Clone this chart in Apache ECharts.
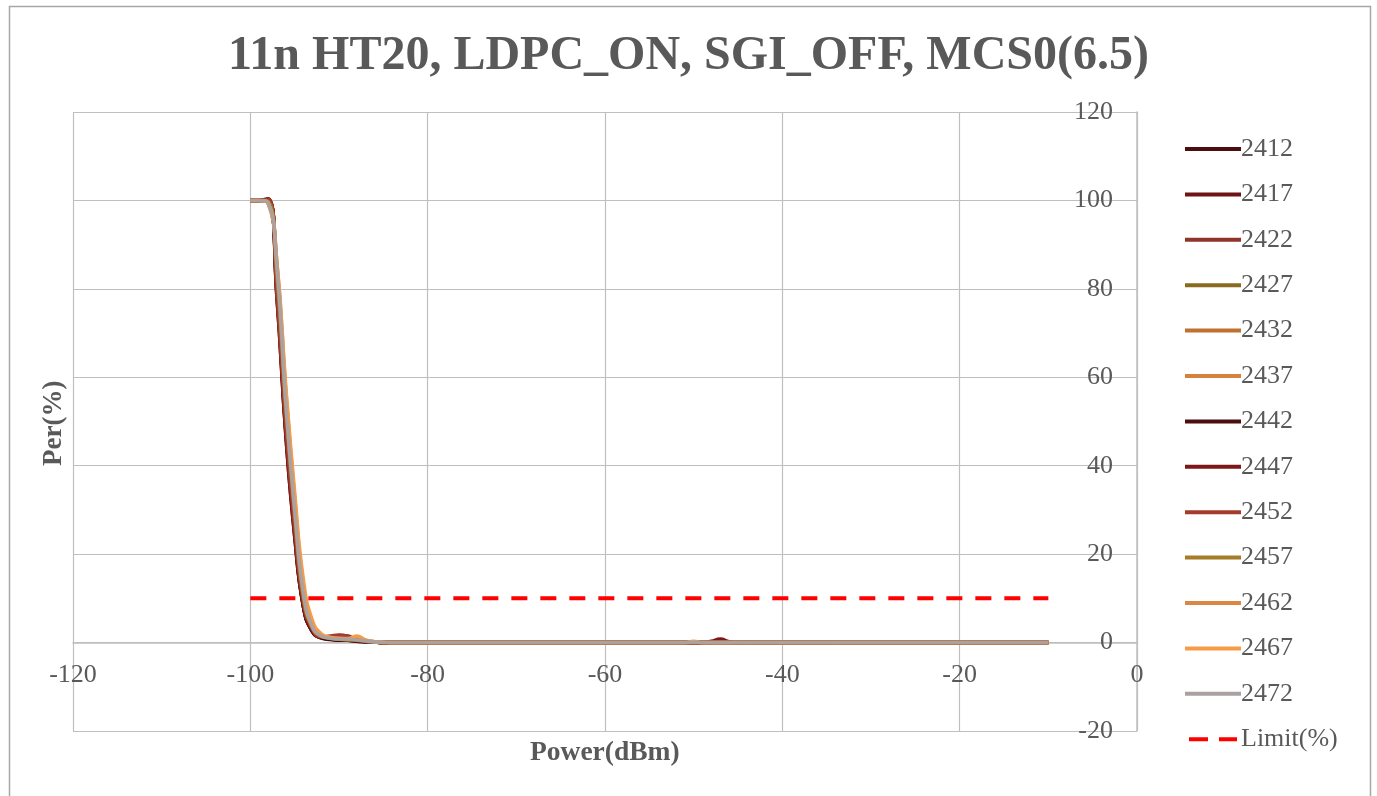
<!DOCTYPE html>
<html>
<head>
<meta charset="utf-8">
<script src="https://cdn.jsdelivr.net/npm/echarts@6/dist/echarts.min.js"></script>
<style>
html,body{margin:0;padding:0;background:#fff;}
#chart{width:1377px;height:796px;}
</style>
</head>
<body>
<div id="chart"></div>
<script>
const chartTitle = '11n HT20, LDPC_ON, SGI_OFF, MCS0(6.5)';
const xAxisName = 'Power(dBm)';
const yAxisName = 'Per(%)';
const xTicks = [-120, -100, -80, -60, -40, -20, 0];
const yTicks = [-20, 0, 20, 40, 60, 80, 100, 120];

const powers = [
-100,-99,-98,-97,-96,-95,-94,-93,-92,-91,
-90,-89,-88,-87,-86,-85,-84,-83,-82,-81,
-80,-79,-78,-77,-76,-75,-74,-73,-72,-71,
-70,-69,-68,-67,-66,-65,-64,-63,-62,-61,
-60,-59,-58,-57,-56,-55,-54,-53,-52,-51,
-50,-49,-48,-47,-46,-45,-44,-43,-42,-41,
-40,-39,-38,-37,-36,-35,-34,-33,-32,-31,
-30,-29,-28,-27,-26,-25,-24,-23,-22,-21,
-20,-19,-18,-17,-16,-15,-14,-13,-12,-11,
-10];

const seriesNames = ['2412','2417','2422','2427','2432','2437','2442','2447','2452','2457','2462','2467','2472'];

const per2412 = [
100,100,100,80,48,25,8,2.5,1,0.7,
0.5,0.5,0.3,0.2,0.1,0,0,0,0,0,
0,0,0,0,0,0,0,0,0,0,
0,0,0,0,0,0,0,0,0,0,
0,0,0,0,0,0,0,0,0,0,
0,0,0,0,0,0,0,0,0,0,
0,0,0,0,0,0,0,0,0,0,
0,0,0,0,0,0,0,0,0,0,
0,0,0,0,0,0,0,0,0,0,
0];
const per2417 = [
100,100,100.3,78,47,24,8,2.5,1.2,0.8,
1.2,1,0.4,0.2,0.1,0,0,0,0,0,
0,0,0,0,0,0,0,0,0,0,
0,0,0,0,0,0,0,0,0,0,
0,0,0,0,0,0,0,0,0,0,
0,0,0,0,0,0,0,0,0,0,
0,0,0,0,0,0,0.1,0,0,0,
0,0,0,0,0,0,0,0,0,0,
0,0,0,0,0,0,0,0,0,0,
0];
const per2422 = [
100,100,100,80,50,27,9,3,1.3,1,
0.8,0.6,0.4,0.2,0.1,0,0,0,0,0,
0,0,0,0,0,0,0,0,0,0,
0,0,0,0,0,0,0,0,0,0,
0,0,0,0,0,0,0,0,0,0,
0,0,0,0,0,0,0,0,0,0,
0,0,0,0,0,0,0,0,0,0,
0,0,0,0,0,0,0,0,0,0,
0,0,0,0,0,0,0,0,0,0,
0];
const per2427 = [
100,100,99.8,82,52,28,10,3,1.3,1,
0.8,0.6,0.5,0.3,0.1,0,0,0,0,0,
0,0,0,0,0,0,0,0,0,0,
0,0,0,0,0,0,0,0,0,0,
0,0,0,0,0,0,0,0,0,0,
0,0,0,0,0,0,0.1,0,0,0,
0,0,0,0,0,0,0,0,0,0,
0,0,0,0,0,0,0,0,0,0,
0,0,0,0,0,0,0,0,0,0,
0];
const per2432 = [
100,100,99.5,84,55,31,12,4,1.6,1,
0.8,0.7,0.8,0.3,0.1,0,0,0,0,0,
0,0,0,0,0,0,0,0,0,0,
0,0,0,0,0,0,0,0,0,0,
0,0,0,0,0,0,0,0,0,0,
0,0,0,0,0,0,0,0,0,0,
0,0,0,0,0,0,0,0,0,0,
0,0,0,0,0,0,0,0,0,0,
0,0,0,0,0,0,0,0,0,0,
0];
const per2437 = [
100,100,99.5,85,56,32,12,4,1.5,1,
0.8,0.7,1,0.4,0.2,0,0,0,0,0,
0,0,0,0,0,0,0,0,0,0,
0,0,0,0,0,0,0,0,0,0,
0,0,0,0,0,0,0,0,0,0,
0,0,0,0,0,0,0,0,0,0,
0,0,0,0,0,0,0,0,0,0,
0,0,0,0,0,0,0,0,0,0,
0,0,0,0,0,0,0,0,0,0,
0];
const per2442 = [
100,100,100,79,48,25,8,2.5,1.1,0.8,
0.6,0.5,0.3,0.2,0.1,0,0,0,0,0,
0,0,0,0,0,0,0,0,0,0,
0,0,0,0,0,0,0,0,0,0,
0,0,0,0,0,0,0,0,0,0,
0,0,0,0,0,0,0,0,0,0,
0,0,0,0,0,0,0,0,0,0,
0,0,0,0,0,0,0,0,0,0,
0,0,0,0,0,0,0,0,0,0,
0];
const per2447 = [
100,100,100.4,78,47,24,8,2.7,1.2,1.3,
1.6,1.5,0.5,0.3,0.1,0,0,0,0,0,
0,0,0,0,0,0,0,0,0,0,
0,0,0,0,0,0,0,0,0,0,
0,0,0,0,0,0,0,0,0,0,
0,0,0.3,0.8,0.2,0,0,0,0,0,
0,0,0,0,0,0,0,0,0,0,
0,0,0,0,0,0,0,0,0,0,
0,0,0,0,0,0,0,0,0,0,
0];
const per2452 = [
100,100,100.2,79,49,26,9,3,1.3,1.5,
1.7,1.4,0.5,0.3,0.1,0,0,0,0,0,
0,0,0,0,0,0,0,0,0,0,
0,0,0,0,0,0,0,0,0,0,
0,0,0,0,0,0,0,0,0,0,
0,0,0,0,0,0,0,0,0,0,
0,0,0,0,0,0,0,0,0,0,
0,0,0,0,0,0,0,0,0,0,
0,0,0,0,0,0,0,0,0,0,
0];
const per2457 = [
100,100,99.8,83,53,29,10,3.3,1.4,1,
0.8,0.6,0.6,0.3,0.1,0,0,0,0,0,
0,0,0,0,0,0,0,0,0,0,
0,0,0,0,0,0,0,0,0,0,
0,0,0,0,0,0,0,0,0,0,
0,0,0,0,0,0,0,0,0,0,
0,0,0,0,0,0,0,0,0,0,
0,0,0,0,0,0,0,0,0,0,
0,0,0,0,0,0,0,0,0,0,
0];
const per2462 = [
100,100,99.5,86,57,33,13,4.5,1.6,1.1,
0.9,0.8,1.3,0.5,0.2,0,0,0,0,0,
0,0,0,0,0,0,0,0,0,0,
0,0,0,0,0,0,0,0,0,0,
0,0,0,0,0,0,0,0,0,0,
0,0,0,0,0,0,0,0,0,0,
0,0,0,0,0,0,0,0,0,0,
0,0,0,0,0,0,0,0,0,0,
0,0,0,0,0,0,0,0,0,0,
0];
const per2467 = [
100,100,99.3,86,58,34,14,5,2,1.2,
1,0.9,1.5,0.6,0.2,0.1,0,0,0,0,
0,0,0,0,0,0,0,0,0,0,
0,0,0,0,0,0,0,0,0,0,
0,0,0,0,0,0,0,0,0,0,
0.3,0,0,0,0,0,0,0,0,0,
0,0,0,0,0,0,0,0,0,0,
0,0,0,0,0,0,0,0,0,0,
0,0,0,0,0,0,0,0,0,0,
0];
const per2472 = [
100,100,99.5,85,54,30,11,3.5,1.5,1,
0.8,0.8,0.6,0.4,0.2,0.1,0,0,0,0,
0,0,0,0,0,0,0,0,0,0,
0,0,0,0,0,0,0,0,0,0,
0,0,0,0,0,0,0,0,0,0,
0.1,0,0,0,0,0,0,0,0,0,
0,0,0,0,0,0,0,0,0,0,
0,0,0,0,0,0,0,0,0,0,
0,0,0,0,0,0,0,0,0,0,
0];

const limitName = 'Limit(%)';
const limitPowers = [-100, -10];
const limitValues = [10, 10];

const seriesValues = [per2412, per2417, per2422, per2427, per2432, per2437, per2442,
  per2447, per2452, per2457, per2462, per2467, per2472];
const seriesColors = ['#4b0d0d','#6f1414','#8f3428','#8a6a1e','#c0702f','#d5823c','#4b0d0d',
  '#7e1717','#a43b2d','#a67c28','#db8642','#f79b46','#aaa2a0'];

const font = 'Liberation Serif, Times New Roman, serif';
const textColor = '#595959';

const series = seriesNames.map((name, i) => ({
  name: name,
  type: 'line',
  data: powers.map((p, j) => [p, seriesValues[i][j]]),
  smooth: 0.5,
  showSymbol: false,
  symbol: 'none',
  lineStyle: { width: 3.5, color: seriesColors[i] },
  itemStyle: { color: seriesColors[i] },
  z: 3
}));
series.push({
  name: limitName,
  type: 'line',
  data: limitPowers.map((p, j) => [p, limitValues[j]]),
  showSymbol: false,
  symbol: 'none',
  lineStyle: { width: 4, color: '#ff0000', type: [16, 13] },
  itemStyle: { color: '#ff0000' },
  z: 4
});

const legendData = seriesNames.map(n => ({ name: n, icon: 'rect' }));
legendData.push({ name: limitName, icon: 'path://M0,0H19V4H0Z M30,0H48V4H30Z' });

const chart = echarts.init(document.getElementById('chart'), null, { renderer: 'canvas' });
chart.setOption({
  backgroundColor: '#ffffff',
  animation: false,
  title: {
    text: chartTitle,
    left: 'center',
    top: 28,
    textStyle: { fontFamily: font, fontSize: 48, fontWeight: 'bold', color: textColor }
  },
  grid: { left: 73, right: 240, top: 112, bottom: 65 },
  xAxis: {
    type: 'value',
    position: 'bottom',
    offset: -88,
    min: xTicks[0],
    max: xTicks[xTicks.length - 1],
    interval: 20,
    axisLine: { onZero: false, lineStyle: { color: '#bfbfbf', width: 1.5 } },
    axisTick: { show: false },
    axisLabel: { fontFamily: font, fontSize: 26, color: textColor, margin: 19 },
    splitLine: { show: true, lineStyle: { color: '#bfbfbf', width: 1.2 } }
  },
  yAxis: {
    type: 'value',
    position: 'right',
    min: yTicks[0],
    max: yTicks[yTicks.length - 1],
    interval: 20,
    axisLine: { show: true, onZero: false, lineStyle: { color: '#bfbfbf', width: 1.5 } },
    axisTick: { show: false },
    axisLabel: { inside: true, fontFamily: font, fontSize: 26, color: textColor, margin: 24 },
    splitLine: { show: true, lineStyle: { color: '#bfbfbf', width: 1.2 } }
  },
  legend: {
    orient: 'vertical',
    left: 1180,
    top: 131,
    itemWidth: 56,
    itemHeight: 4,
    itemGap: 19.4,
    data: legendData,
    textStyle: { fontFamily: font, fontSize: 26, lineHeight: 26, color: textColor, padding: [0, 0, 0, -5] }
  },
  graphic: [
    { type: 'rect', left: 7, top: 4, shape: { width: 1361, height: 800 }, style: { fill: 'none', stroke: '#a6a6a6', lineWidth: 1.5 }, silent: true, z: -10 },
    { type: 'text', left: 530, top: 739, style: { text: xAxisName, font: 'bold 27.5px ' + font, fill: textColor } },
    { type: 'text', x: 41, y: 466, rotation: Math.PI / 2, style: { text: yAxisName, font: 'bold 27px ' + font, fill: textColor } }
  ],
  series: series
});
</script>
</body>
</html>
